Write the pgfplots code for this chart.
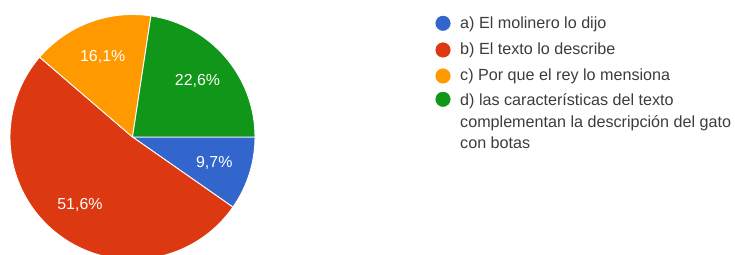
\documentclass[border=0pt]{standalone}
\usepackage{fontspec}
\setmainfont{Liberation Sans}
\usepackage{pgfplots}
\usepackage{pgfplotstable}
\pgfplotsset{compat=1.18}
\pgfkeys{/pgf/number format/assume math mode=true}
\definecolor{gblue}{HTML}{3366CC}
\definecolor{gred}{HTML}{DC3912}
\definecolor{gorange}{HTML}{FF9900}
\definecolor{ggreen}{HTML}{109618}
\definecolor{gtext}{HTML}{3C3C3C}
\pgfplotstableread{
name value
a 9.7
b 51.6
c 16.1
d 22.6
}\piedata
\newcommand\cx{132.5}
\newcommand\cy{118}
\newcommand\R{122.5}
\newcommand\LR{85.75}
\newcommand\pct[1]{\pgfmathprintnumber[use comma,fixed,precision=1,fixed zerofill,assume math mode=true]{#1}\%}
\begin{document}
\begin{tikzpicture}
\pgfplotstablegetelem{0}{value}\of\piedata \let\va\pgfplotsretval
\pgfplotstablegetelem{1}{value}\of\piedata \let\vb\pgfplotsretval
\pgfplotstablegetelem{2}{value}\of\piedata \let\vc\pgfplotsretval
\pgfplotstablegetelem{3}{value}\of\piedata \let\vd\pgfplotsretval
\pgfmathsetmacro\aA{-3.6*\va}
\pgfmathsetmacro\aB{\aA-3.6*\vb}
\pgfmathsetmacro\aC{\aB-3.6*\vc}
\pgfmathsetmacro\aD{\aC-3.6*\vd}
\pgfmathsetmacro\mA{(0+\aA)/2}
\pgfmathsetmacro\mB{(\aA+\aB)/2}
\pgfmathsetmacro\mC{(\aB+\aC)/2}
\pgfmathsetmacro\mD{(\aC+\aD)/2}
\pgfmathsetmacro\xA{\cx+\LR*cos(\mA)}\pgfmathsetmacro\yA{\cy+\LR*sin(\mA)}
\pgfmathsetmacro\xB{\cx+\LR*cos(\mB)}\pgfmathsetmacro\yB{\cy+\LR*sin(\mB)}
\pgfmathsetmacro\xC{\cx+\LR*cos(\mC)}\pgfmathsetmacro\yC{\cy+\LR*sin(\mC)}
\pgfmathsetmacro\xD{\cx+\LR*cos(\mD)}\pgfmathsetmacro\yD{\cy+\LR*sin(\mD)}
\begin{axis}[name=ax, scale only axis, width=735bp, height=255bp,
  xmin=0, xmax=735, ymin=0, ymax=255, hide axis, clip=true]
\fill[gblue, draw=white, line width=0.9pt] (axis cs:\cx,\cy) -- ++(0:\R bp) arc[start angle=0, end angle=\aA, radius=\R bp] -- cycle;
\fill[gred, draw=white, line width=0.9pt] (axis cs:\cx,\cy) -- ++(\aA:\R bp) arc[start angle=\aA, end angle=\aB, radius=\R bp] -- cycle;
\fill[gorange, draw=white, line width=0.9pt] (axis cs:\cx,\cy) -- ++(\aB:\R bp) arc[start angle=\aB, end angle=\aC, radius=\R bp] -- cycle;
\fill[ggreen, draw=white, line width=0.9pt] (axis cs:\cx,\cy) -- ++(\aC:\R bp) arc[start angle=\aC, end angle=\aD, radius=\R bp] -- cycle;
\node[white, font=\fontsize{16}{19}\selectfont] at (axis cs:\xA,\yA) {\pct{\va}};
\node[white, font=\fontsize{16}{19}\selectfont] at (axis cs:\xB,\yB) {\pct{\vb}};
\node[white, font=\fontsize{16}{19}\selectfont] at (axis cs:\xC,\yC) {\pct{\vc}};
\node[white, font=\fontsize{16}{19}\selectfont] at (axis cs:\xD,\yD) {\pct{\vd}};
\addplot[only marks, mark=*, mark size=7.3bp, gblue] coordinates {(443,231.7)};
\addplot[only marks, mark=*, mark size=7.3bp, gred] coordinates {(443,205)};
\addplot[only marks, mark=*, mark size=7.3bp, gorange] coordinates {(443,179)};
\addplot[only marks, mark=*, mark size=7.3bp, ggreen] coordinates {(443,155.7)};
\begin{scope}[every node/.style={anchor=base west, inner sep=0pt, text=gtext, font=\fontsize{16.2}{19}\selectfont}]
\node at (axis cs:460,226) {a) El molinero lo dijo};
\node at (axis cs:460,200) {b) El texto lo describe};
\node at (axis cs:460,174) {c) Por que el rey lo mensiona};
\node at (axis cs:460,149.7) {d) las características del texto};
\node at (axis cs:460,127.7) {complementan la descripción del gato};
\node at (axis cs:460,106.7) {con botas};
\end{scope}
\end{axis}
\pgfresetboundingbox
\useasboundingbox (ax.south west) rectangle (ax.north east);
\end{tikzpicture}
\end{document}
